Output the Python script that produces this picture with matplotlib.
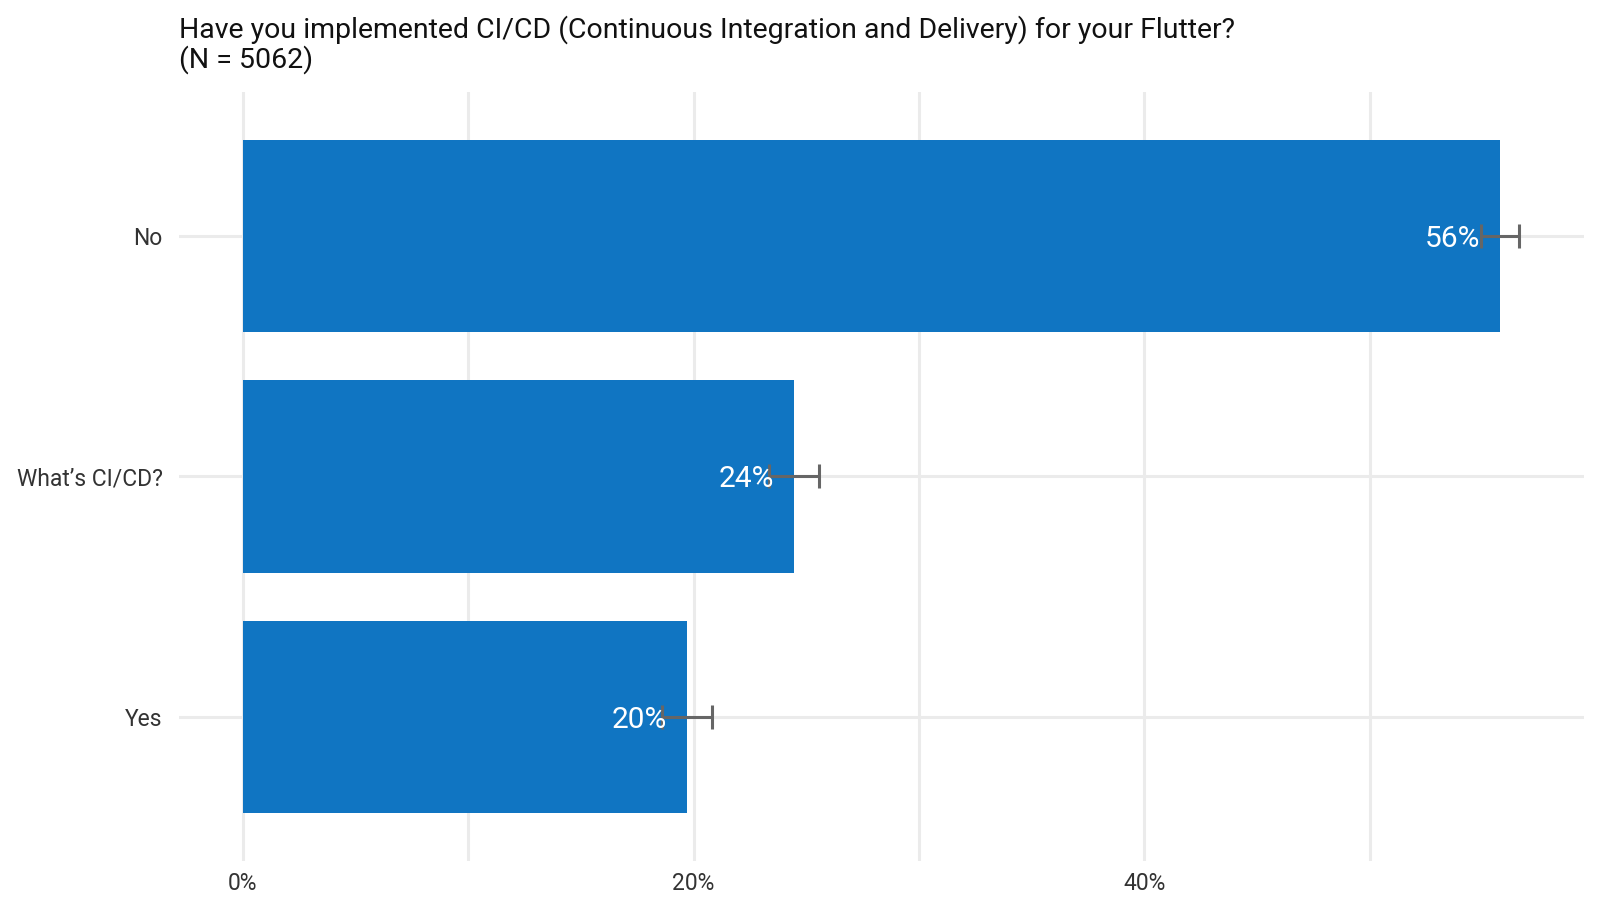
import matplotlib.pyplot as plt
from matplotlib.ticker import FuncFormatter, MultipleLocator

plt.rcParams['font.family'] = ['Roboto', 'DejaVu Sans']

# data, bottom to top
categories = ["Yes", "What\u2019s CI/CD?", "No"]
shares = [19.7, 24.45, 55.8]
errors = [1.1, 1.1, 0.85]
labels = ["20%", "24%", "56%"]

title = "Have you implemented CI/CD (Continuous Integration and Delivery) for your Flutter?\n(N = 5062)"

bar_color = "#1075C2"
grid_color = "#EBEBEB"

fig = plt.figure(figsize=(16, 9.14), dpi=100)
left, right = 175 / 1566, 1550 / 1566
top, bottom = 1 - 90 / 895, 1 - 843 / 895
ax = fig.add_axes([left, bottom, right - left, top - bottom])

ypos = range(len(categories))
ax.barh(ypos, shares, height=0.8, color=bar_color, zorder=2)
ax.errorbar(shares, ypos, xerr=errors, fmt="none", ecolor="#666666",
            elinewidth=2.2, capsize=8.5, capthick=2.2, zorder=3)

for y, v, lab in zip(ypos, shares, labels):
    ax.text(v - 0.9, y, lab, ha="right", va="center_baseline", color="white",
            fontsize=21.5, zorder=4)

ax.set_xlim(-2.84, 59.5)
ax.set_ylim(-0.6, 2.6)
ax.set_yticks(list(ypos))
ax.set_yticklabels(categories)
ax.xaxis.set_major_locator(MultipleLocator(20))
ax.xaxis.set_minor_locator(MultipleLocator(10))
ax.xaxis.set_major_formatter(FuncFormatter(lambda x, _: f"{x:.0f}%"))

ax.grid(True, which="both", axis="x", color=grid_color, linewidth=2.2, zorder=0)
ax.grid(True, which="major", axis="y", color=grid_color, linewidth=2.2, zorder=0)
ax.set_axisbelow(True)
for s in ax.spines.values():
    s.set_visible(False)
ax.tick_params(axis="both", which="both", length=0, labelsize=16.5,
               labelcolor="#333333")
ax.tick_params(axis="y", pad=11.7)
ax.tick_params(axis="x", pad=8)

fig.text(left, 1 - 15 / 914, title, ha="left", va="top",
         fontsize=20.5, color="#111111", linespacing=1.05)

fig.savefig("out.png", dpi=100)
